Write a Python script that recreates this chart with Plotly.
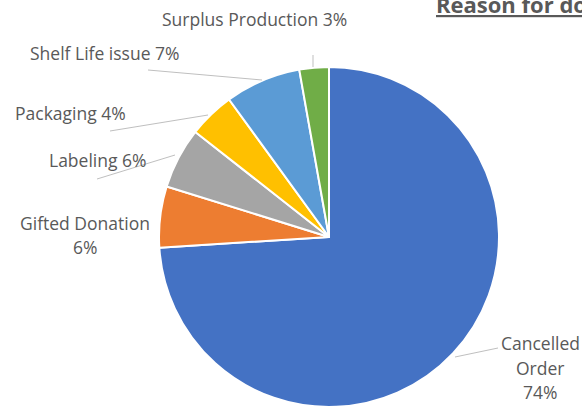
import plotly.graph_objects as go

# ---- data ----
categories = ["Cancelled Order", "Gifted Donation", "Labeling", "Packaging",
              "Shelf Life issue", "Surplus Production"]
values = [74.0, 5.8, 5.8, 4.4, 7.2, 2.8]
colors = ["#4472C4", "#ED7D31", "#A5A5A5", "#FFC000", "#5B9BD5", "#70AD47"]
title_text = "Reason for donation"

W, H = 582, 407
total = sum(values)
pcts = [round(v / total * 100) for v in values]

# label line breaks (text split per category)
label_split = {
    "Cancelled Order": ["Cancelled", "Order", "{p}%"],
    "Gifted Donation": ["Gifted Donation", "{p}%"],
    "Labeling": ["Labeling {p}%"],
    "Packaging": ["Packaging {p}%"],
    "Shelf Life issue": ["Shelf Life issue {p}%"],
    "Surplus Production": ["Surplus Production {p}%"],
}
# label placement in pixels: (center x, [line center y...])
label_pos = {
    "Cancelled Order": (540, [343, 367.5, 392]),
    "Gifted Donation": (85, [223, 247]),
    "Labeling": (97, [160]),
    "Packaging": (70, [113]),
    "Shelf Life issue": (105, [53]),
    "Surplus Production": (254, [19]),
}
# leader lines in pixels
leaders = {
    "Cancelled Order": (455, 357, 498, 348),
    "Labeling": (97, 179, 175, 155),
    "Packaging": (110, 131, 208, 115),
    "Shelf Life issue": (148, 70, 262, 80),
    "Surplus Production": (313, 55, 313, 67),
}

def px(x):
    return x / W

def py(y):
    return 1 - y / H

FONT = "Open Sans"
TXT = "#595959"

fig = go.Figure(go.Pie(
    labels=categories,
    values=values,
    sort=False,
    direction="clockwise",
    rotation=0,
    textinfo="none",
    hoverinfo="label+percent",
    marker=dict(colors=colors, line=dict(color="white", width=2)),
    domain=dict(x=[157 / W, 501 / W], y=[0, 340 / H]),
    showlegend=False,
))

annotations = []
for cat, p in zip(categories, pcts):
    cx, ys = label_pos[cat]
    for line, y in zip(label_split[cat], ys):
        annotations.append(dict(
            text=line.format(p=p), x=px(cx), y=py(y), xref="paper", yref="paper",
            xanchor="center", yanchor="middle", showarrow=False,
            font=dict(family=FONT, size=17.5, color=TXT),
        ))

annotations.append(dict(
    text="<b><u>" + title_text + "</u></b>", x=px(434), y=1, xref="paper", yref="paper",
    xanchor="left", yanchor="top", yshift=13, showarrow=False,
    font=dict(family=FONT, size=22, color=TXT),
))

shapes = []
for cat, (x0, y0, x1, y1) in leaders.items():
    shapes.append(dict(type="line", xref="paper", yref="paper",
                       x0=px(x0), y0=py(y0), x1=px(x1), y1=py(y1),
                       line=dict(color="#BFBFBF", width=1)))

fig.update_layout(
    width=W, height=H,
    margin=dict(l=0, r=0, t=0, b=0),
    paper_bgcolor="white", plot_bgcolor="white",
    annotations=annotations, shapes=shapes,
)

fig.write_html("out.html", config={"displayModeBar": False},
               post_script="document.body.style.margin='0';document.body.style.overflow='hidden';")
